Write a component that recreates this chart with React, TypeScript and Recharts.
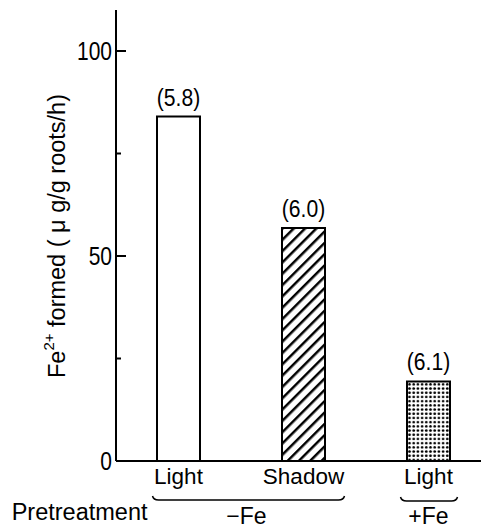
import React from 'react';
import { BarChart, Bar, XAxis, YAxis, Cell, LabelList } from 'recharts';

const categoryKeys = ['light-minusFe', 'shadow-minusFe', 'light-plusFe'];
const categoryLabels = ['Light', 'Shadow', 'Light'];
const fe2Formed = [84, 56.8, 19.4];
const phValues = ['(5.8)', '(6.0)', '(6.1)'];
const barFills = ['#ffffff', 'url(#hatch)', 'url(#dots)'];
const yTicks = [0, 25, 50, 75, 100];
const yTickLabels = ['0', '', '50', '', '100'];
const groupLabels = ['\u2212Fe', '+Fe'];
const pretreatmentLabel = 'Pretreatment';

const data = categoryKeys.map((k, i) => ({ key: k, value: fe2Formed[i], ph: phValues[i] }));

const CHART_W = 491;
const CHART_H = 529;
const Y_AXIS_W = 116;
const X_AXIS_H = 68;
const TOP = 10;
const BAND = (CHART_W - Y_AXIS_W) / categoryKeys.length;

const SANS = '"Liberation Sans", Arial, sans-serif';

function YTick(props: any) {
  const { x, y, index } = props;
  const label = yTickLabels[index] ?? '';
  const major = label !== '';
  const ax = x + 4;
  return (
    <g>
      <line x1={ax} x2={ax + (major ? 10 : 5)} y1={y} y2={y} stroke="#000" strokeWidth={2} />
      {major && (
        <text
          transform={`translate(${x} ${y}) scale(0.84 1)`}
          x={0}
          y={0}
          dy="0.36em"
          textAnchor="end"
          fontFamily={SANS}
          fontSize={25}
          fill="#000"
        >
          {label}
        </text>
      )}
    </g>
  );
}

function XTick(props: any) {
  const { x, y, index } = props;
  const label = categoryLabels[index];
  const els: any[] = [
    <text key="t" x={x} y={y + 23} textAnchor="middle" fontFamily={SANS} fontSize={22.5} fill="#000">
      {label}
    </text>,
  ];
  if (index === 0) {
    const x0 = x - 26;
    const x1 = x + BAND + 41;
    els.push(
      <path
        key="b"
        d={`M${x0},${y + 35} Q${x0 + 1},${y + 39} ${x0 + 6},${y + 39} L${x1 - 6},${y + 39} Q${x1 - 1},${y + 39} ${x1},${y + 35}`}
        fill="none"
        stroke="#000"
        strokeWidth={1.5}
      />
    );
    els.push(
      <text key="g" x={(x0 + x1) / 2 - 2} y={y + 63} textAnchor="middle" fontFamily={SANS} fontSize={23} fill="#000">
        {groupLabels[0]}
      </text>
    );
    els.push(
      <text key="p" x={x - 31} y={y + 59} textAnchor="end" fontFamily={SANS} fontSize={23.5} fill="#000">
        {pretreatmentLabel}
      </text>
    );
  }
  if (index === 2) {
    const x0 = x - 28;
    const x1 = x + 29;
    els.push(
      <path
        key="b"
        d={`M${x0},${y + 36} Q${x0 + 1},${y + 40} ${x0 + 6},${y + 40} L${x1 - 6},${y + 40} Q${x1 - 1},${y + 40} ${x1},${y + 36}`}
        fill="none"
        stroke="#000"
        strokeWidth={1.5}
      />
    );
    els.push(
      <text key="g" x={x} y={y + 63} textAnchor="middle" fontFamily={SANS} fontSize={23} fill="#000">
        {groupLabels[1]}
      </text>
    );
  }
  return <g>{els}</g>;
}

function YLabel() {
  const cx = 57;
  const cy = 236;
  return (
    <text
      x={cx}
      y={cy}
      transform={`rotate(-90 ${cx} ${cy})`}
      textAnchor="middle"
      dominantBaseline="central"
      fontFamily={SANS}
      fontSize={23.5}
      fill="#000"
    >
      Fe
      <tspan fontSize={15} dy={-9}>2+</tspan>
      <tspan dy={9}> formed ( {'\u03bc'} g/g roots/h)</tspan>
    </text>
  );
}

function PhLabel(props: any) {
  const { x, y, width, value } = props;
  return (
    <text
      transform={`translate(${x + width / 2} ${y - 11}) scale(0.88 1)`}
      x={0}
      y={0}
      textAnchor="middle"
      fontFamily={SANS}
      fontSize={24}
      fill="#000"
    >
      {value}
    </text>
  );
}

export default function App() {
  return (
    <div style={{ position: 'absolute', left: 0, top: 0, width: 481, height: 529, overflow: 'hidden', background: '#fff' }}>
      <BarChart
        width={CHART_W}
        height={CHART_H}
        data={data}
        margin={{ top: TOP, right: 0, bottom: 0, left: 0 }}
        barCategoryGap={0}
      >
        <defs>
          <pattern id="hatch" patternUnits="userSpaceOnUse" width={8} height={8} patternTransform="rotate(45)">
            <rect width={8} height={8} fill="#fff" />
            <line x1={0} y1={0} x2={0} y2={8} stroke="#000" strokeWidth={5} />
          </pattern>
          <pattern id="dots" patternUnits="userSpaceOnUse" width={4.2} height={4.2}>
            <rect width={4.2} height={4.2} fill="#fff" />
            <circle cx={2.1} cy={2.1} r={1.35} fill="#000" />
          </pattern>
        </defs>
        <XAxis
          dataKey="key"
          height={X_AXIS_H}
          interval={0}
          tickSize={0}
          tickMargin={0}
          tickLine={false}
          axisLine={{ stroke: '#000', strokeWidth: 2 }}
          tick={<XTick />}
        />
        <YAxis
          width={Y_AXIS_W}
          domain={[0, 110]}
          ticks={yTicks}
          interval={0}
          tickSize={0}
          tickMargin={4}
          tickLine={false}
          axisLine={{ stroke: '#000', strokeWidth: 2 }}
          tick={<YTick />}
          label={<YLabel />}
        />
        <Bar dataKey="value" barSize={43} stroke="#000" strokeWidth={2} isAnimationActive={false}>
          {data.map((d, i) => (
            <Cell key={d.key} fill={barFills[i]} />
          ))}
          <LabelList dataKey="ph" content={<PhLabel />} />
        </Bar>
      </BarChart>
    </div>
  );
}
